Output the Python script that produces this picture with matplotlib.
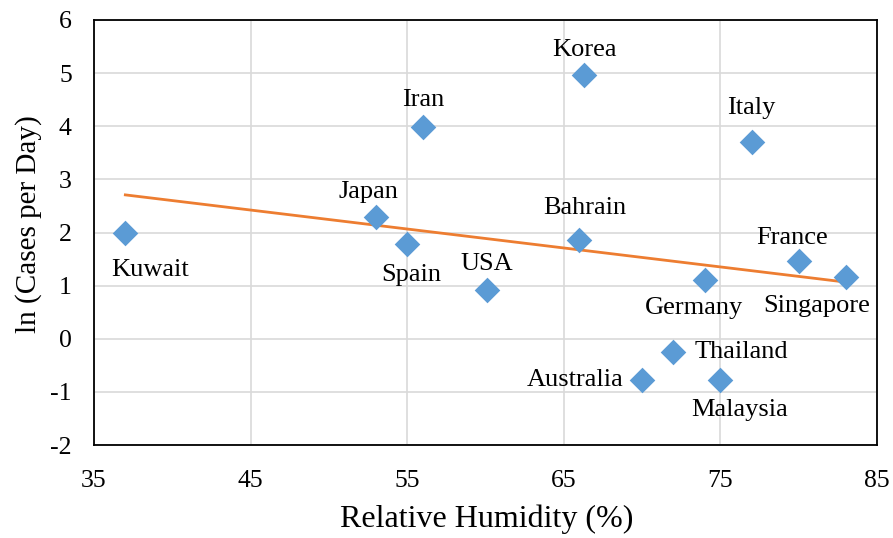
import numpy as np
import matplotlib
matplotlib.use("Agg")
import matplotlib.pyplot as plt

countries = ["Kuwait", "Japan", "Spain", "Iran", "USA", "Bahrain", "Korea",
             "Australia", "Thailand", "Germany", "Malaysia", "Italy", "France", "Singapore"]
humidity = [37, 53, 55, 56, 60.1, 66, 66.3, 70, 72, 74, 75, 77, 80, 83]
ln_cases = [2.0, 2.29, 1.78, 3.99, 0.92, 1.86, 4.96, -0.78, -0.25, 1.1, -0.78, 3.7, 1.46, 1.16]

x_ticks = [35, 45, 55, 65, 75, 85]
y_ticks = [-2, -1, 0, 1, 2, 3, 4, 5, 6]

# label offsets in pixels (dx, dy; dy positive = up)
label_offsets = {
    "Kuwait": (25, -37), "Japan": (-7, 25), "Spain": (4, -31), "Iran": (0, 27),
    "USA": (0, 26), "Bahrain": (5, 32), "Korea": (0, 25), "Australia": (-67, 0),
    "Thailand": (68, 0), "Germany": (-11, -28), "Malaysia": (19, -30),
    "Italy": (0, 34), "France": (-7, 23), "Singapore": (-29, -29),
}

plt.rcParams['font.family'] = ['Liberation Serif', 'DejaVu Serif']
plt.rcParams['axes.unicode_minus'] = False
fig = plt.figure(figsize=(8.93, 5.38), dpi=100)
ax = fig.add_axes([94/893, 1 - 445/538, (877-94)/893, (445-20)/538])

ax.set_xlim(35, 85)
ax.set_ylim(-2, 6)
ax.set_xticks(x_ticks)
ax.set_yticks(y_ticks)
ax.grid(True, color='#d9d9d9', linewidth=1.2)
ax.set_axisbelow(True)
ax.tick_params(length=0, labelsize=18.5)
ax.tick_params(axis='y', pad=16)
ax.tick_params(axis='x', pad=18)
for s in ax.spines.values():
    s.set_color('black')
    s.set_linewidth(1.3)

# trend line (least squares)
m, b = np.polyfit(humidity, ln_cases, 1)
xs = np.array([min(humidity), max(humidity)])
ax.plot(xs, m * xs + b, color='#ED7D31', linewidth=2, zorder=2)

ax.scatter(humidity, ln_cases, marker='D', s=170, color='#5B9BD5', zorder=3, linewidths=0)

for c, x, y in zip(countries, humidity, ln_cases):
    dx, dy = label_offsets[c]
    ax.annotate(c, (x, y), xytext=(dx * 0.72, dy * 0.72), textcoords='offset points',
                ha='center', va='center', fontsize=19, zorder=4)

ax.set_xlabel("Relative Humidity (%)", fontsize=23)
ax.set_ylabel("ln (Cases per Day)", fontsize=21)
ax.xaxis.set_label_coords(0.502, -0.14)
ax.yaxis.set_label_coords(-0.066, 0.52)

fig.savefig("out.png", dpi=100)
